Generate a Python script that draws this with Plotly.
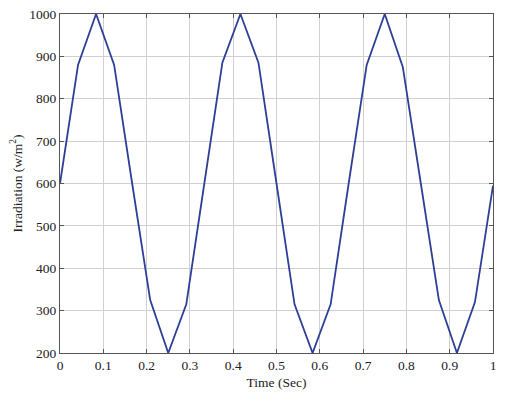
import plotly.graph_objects as go

time_sec = [0, 1/24, 2/24, 3/24, 4/24, 5/24, 6/24, 7/24, 8/24, 9/24, 10/24, 11/24, 12/24,
            13/24, 14/24, 15/24, 16/24, 17/24, 18/24, 19/24, 20/24, 21/24, 22/24, 23/24, 1.0]
irradiation = [600, 880, 1000, 880, 600, 325, 200, 315, 600, 885, 1000, 885, 600,
               315, 200, 315, 600, 880, 1000, 875, 600, 325, 200, 320, 595]

x_ticks = [0, 0.1, 0.2, 0.3, 0.4, 0.5, 0.6, 0.7, 0.8, 0.9, 1]
x_tick_labels = ["0", "0.1", "0.2", "0.3", "0.4", "0.5", "0.6", "0.7", "0.8", "0.9", "1"]
y_ticks = [200, 300, 400, 500, 600, 700, 800, 900, 1000]

fig = go.Figure()
fig.add_trace(go.Scatter(x=time_sec, y=irradiation, mode="lines",
                         line=dict(color="#2e3f96", width=1.8), showlegend=False))

font = dict(family="Times New Roman, Liberation Serif, serif", size=13.5, color="#222222")
axis_common = dict(showline=True, linecolor="#555555", linewidth=1.2, mirror="ticks",
                   ticks="inside", ticklen=4, tickcolor="#555555",
                   showgrid=True, gridcolor="#d0d0d0", gridwidth=1, zeroline=False,
                   tickfont=font, automargin=False, ticklabeloverflow="allow")
fig.update_xaxes(range=[0, 1], tickvals=x_ticks, ticktext=x_tick_labels,
                 title=dict(text="Time (Sec)", font=font, standoff=5), **axis_common)
fig.update_yaxes(range=[200, 1000], tickvals=y_ticks,
                 title=dict(text="Irradiation (w/m<sup>2</sup>)", font=font, standoff=3), **axis_common)
fig.update_layout(width=499, height=389, margin=dict(l=52, r=14, t=6, b=44, autoexpand=False),
                  plot_bgcolor="white", paper_bgcolor="white", font=font)
fig.write_html("out.html")
